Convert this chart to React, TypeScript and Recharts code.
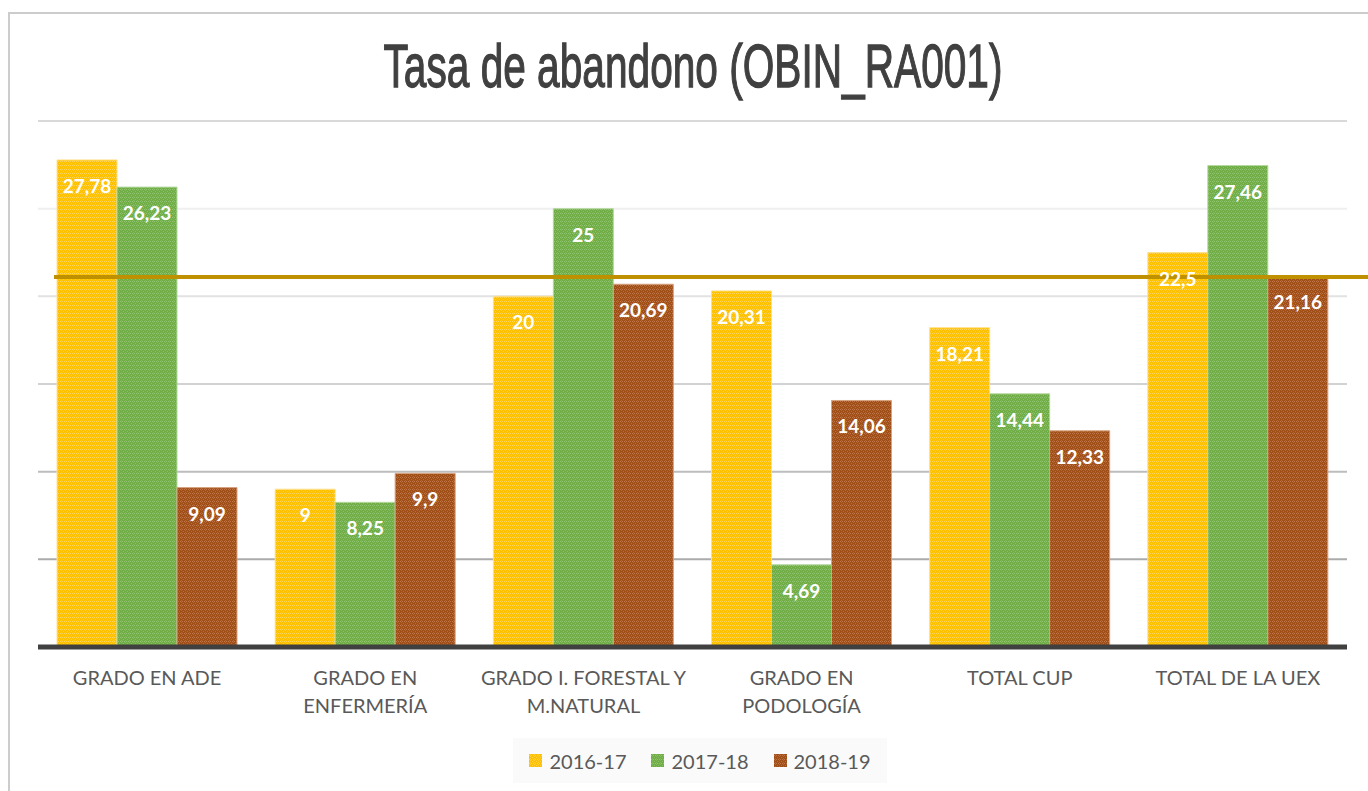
import { Bar, BarChart, CartesianGrid, LabelList, ReferenceLine, XAxis, YAxis } from 'recharts';
import type { FC } from 'react';

const categories = [
  'GRADO EN ADE',
  'GRADO EN\nENFERMERÍA',
  'GRADO I. FORESTAL Y\nM.NATURAL',
  'GRADO EN\nPODOLOGÍA',
  'TOTAL CUP',
  'TOTAL DE LA UEX',
];
const series = ['2016-17', '2017-18', '2018-19'];
const values1617 = [27.78, 9, 20, 20.31, 18.21, 22.5];
const values1718 = [26.23, 8.25, 25, 4.69, 14.44, 27.46];
const values1819 = [9.09, 9.9, 20.69, 14.06, 12.33, 21.16];
const yTicks = [0, 5, 10, 15, 20, 25, 30];
const targetValue = 21.1;

const seriesStyle = [
  { id: 'p1617', base: '#FFC000', light: '#FFD65A', edge: '#FFE08A' },
  { id: 'p1718', base: '#70AD47', light: '#92C572', edge: '#B5D89E' },
  { id: 'p1819', base: '#A14F19', light: '#C07646', edge: '#D7A27E' },
];
// gridlines get darker towards the bottom in the original
const gridColors = ['#9a9a9a', '#ababab', '#bdbdbd', '#d2d2d2', '#e2e2e2', '#efefef'];

const data = categories.map((name, i) => ({
  name,
  s0: values1617[i],
  s1: values1718[i],
  s2: values1819[i],
}));

const font = 'Lato, "Open Sans", sans-serif';
const fmt = (v: number) => String(v).replace('.', ',');

const Patterns: FC<{ prefix: string }> = ({ prefix }) => (
  <defs>
    {seriesStyle.map((s) => (
      <pattern key={s.id} id={prefix + s.id} width={4} height={4} patternUnits="userSpaceOnUse">
        <rect width={4} height={4} fill={s.base} />
        <rect x={0} y={1} width={1} height={1} fill={s.light} />
        <rect x={2} y={1} width={1} height={1} fill={s.light} />
        <rect x={1} y={0} width={1} height={1} fill={s.light} opacity={0.6} />
        <rect x={1} y={2} width={1} height={1} fill={s.light} opacity={0.6} />
        <rect x={3} y={3} width={1} height={1} fill={s.light} opacity={0.8} />
      </pattern>
    ))}
  </defs>
);

const Tick = (props: any) => {
  const { x, y, payload } = props;
  const lines = String(payload.value).split('\n');
  return (
    <g transform={`translate(${x},${y})`}>
      {lines.map((l, i) => (
        <text
          key={i}
          x={0}
          y={30 + i * 28}
          textAnchor="middle"
          fill="#595959"
          fontSize={20}
          fontFamily={font}
        >
          {l}
        </text>
      ))}
    </g>
  );
};

const ValueLabel = (props: any) => {
  const { x, y, width, value } = props;
  return (
    <text
      x={x + width / 2}
      y={y + 33}
      textAnchor="middle"
      fill="#ffffff"
      fontSize={19}
      fontWeight={700}
      fontFamily={font}
    >
      {fmt(value)}
    </text>
  );
};

const GridLine = (props: any) => {
  const { x1, x2, y1, y2, index } = props;
  return <line x1={x1} x2={x2} y1={y1} y2={y2} stroke={gridColors[index] ?? '#d9d9d9'} strokeWidth={2} />;
};

const TargetLine = (props: any) => {
  const { x1, x2, y1 } = props;
  return <line x1={x1 + 16} x2={x2 + 30} y1={y1} y2={y1} stroke="#BF9000" strokeWidth={4} />;
};

export default function App() {
  return (
    <div
      style={{
        position: 'absolute',
        left: 0,
        top: 0,
        width: 1368,
        height: 791,
        background: '#fff',
        overflow: 'hidden',
      }}
    >
      <div
        style={{
          position: 'absolute',
          left: 8,
          top: 12,
          width: 1400,
          height: 800,
          borderLeft: '2px solid #cccccc',
          borderTop: '2px solid #cccccc',
        }}
      />
      <svg width={1368} height={120} style={{ position: 'absolute', left: 0, top: 0 }}>
        <text
          x={693}
          y={87}
          textAnchor="middle"
          fontSize={61}
          fill="#404040"
          stroke="#404040"
          strokeWidth={1.3}
          fontFamily='"Liberation Sans Narrow", "Liberation Sans", Arial, sans-serif'
          textLength={619}
          lengthAdjust="spacingAndGlyphs"
        >
          Tasa de abandono (OBIN_RA001)
        </text>
      </svg>
      <div style={{ position: 'absolute', left: 0, top: 0 }}>
        <BarChart
          width={1368}
          height={791}
          data={data}
          margin={{ top: 121, right: 21, bottom: 64, left: 38 }}
          barGap={0}
        >
          <Patterns prefix="c" />
          <CartesianGrid vertical={false} horizontal={GridLine} />
          <XAxis
            dataKey="name"
            interval={0}
            height={80}
            tickLine={false}
            axisLine={{ stroke: '#404040', strokeWidth: 5 }}
            tick={Tick}
          />
          <YAxis hide domain={[0, 30]} ticks={yTicks} width={0} />
          {series.map((s, i) => (
            <Bar
              key={s}
              dataKey={`s${i}`}
              name={s}
              barSize={60}
              fill={`url(#c${seriesStyle[i].id})`}
              stroke={seriesStyle[i].edge}
              strokeWidth={1}
              isAnimationActive={false}
            >
              <LabelList dataKey={`s${i}`} content={ValueLabel} />
            </Bar>
          ))}
          <ReferenceLine y={targetValue} shape={TargetLine} ifOverflow="visible" />
        </BarChart>
      </div>
      <div
        style={{
          position: 'absolute',
          left: 513,
          top: 738,
          width: 374,
          height: 45,
          background: '#fafafa',
          display: 'flex',
          alignItems: 'center',
          justifyContent: 'center',
          gap: 25,
          fontFamily: font,
          fontSize: 20,
          color: '#595959',
        }}
      >
        {series.map((s, i) => (
          <div key={s} style={{ display: 'flex', alignItems: 'center', gap: 7 }}>
            <svg width={13} height={13}>
              <Patterns prefix="l" />
              <rect width={13} height={13} fill={`url(#l${seriesStyle[i].id})`} />
            </svg>
            <span>{s}</span>
          </div>
        ))}
      </div>
    </div>
  );
}
